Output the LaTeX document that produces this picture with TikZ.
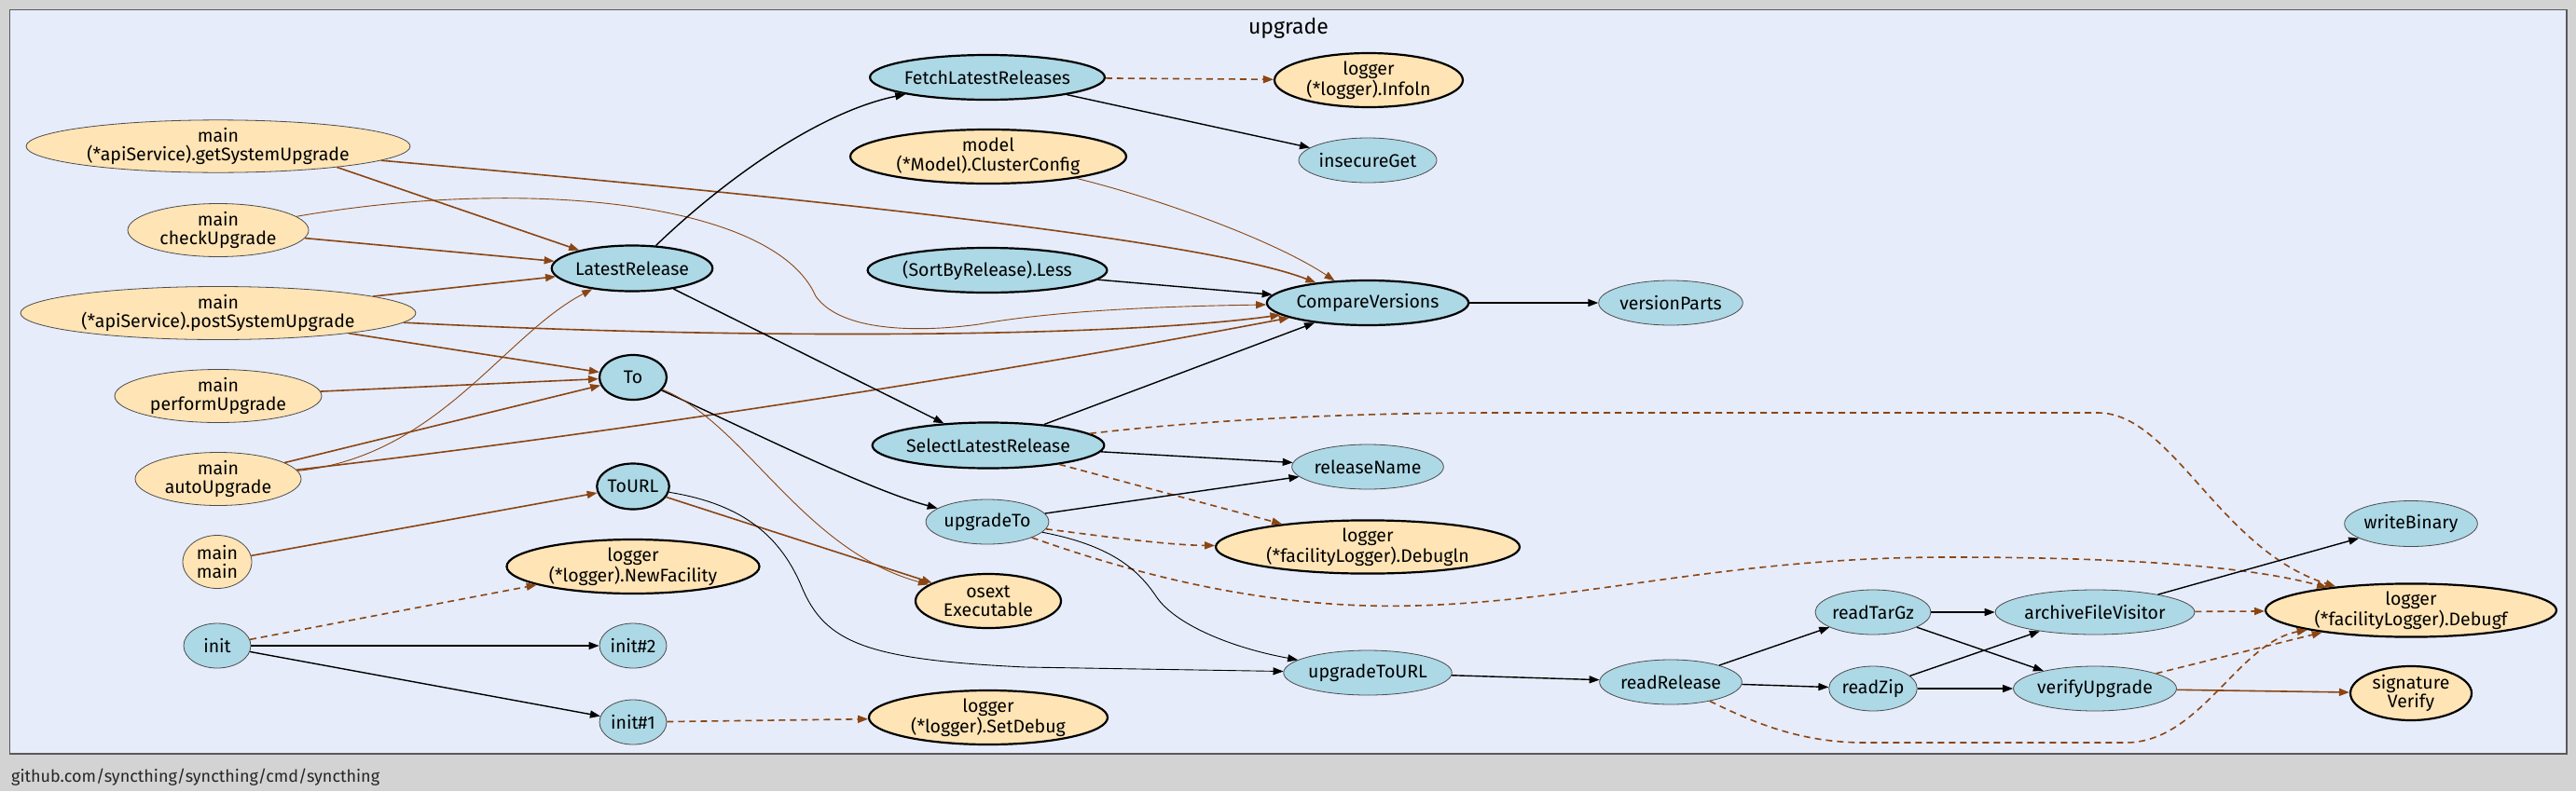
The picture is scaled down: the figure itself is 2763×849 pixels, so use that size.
\documentclass[tikz,border=0pt]{standalone}
\usepackage{fontspec}
\setmainfont{Fira Sans}
\usetikzlibrary{shapes.geometric,arrows.meta}
\definecolor{bgc}{HTML}{D3D3D3}
\definecolor{clc}{HTML}{E6ECFA}
\definecolor{fnc}{HTML}{ADD8E6}
\definecolor{exc}{HTML}{FFE4B5}
\definecolor{brn}{HTML}{8B4513}
\tikzset{
  base/.style={ellipse, inner sep=0pt, align=center, font=\fontsize{19.5}{20.5}\selectfont},
  sz/.style 2 args={minimum width=#1pt, minimum height=#2pt},
  thinfn/.style={base, fill=fnc, draw=black!70, line width=0.8pt},
  boldfn/.style={base, fill=fnc, draw=black, line width=2.2pt},
  thinex/.style={base, fill=exc, draw=black!70, line width=0.8pt},
  boldex/.style={base, fill=exc, draw=black, line width=2.2pt},
  eblk/.style={draw=black, line width=1.4pt, -{Triangle[length=11pt,width=8pt]}},
  ebr/.style={draw=brn, line width=1.6pt, -{Triangle[length=11pt,width=8pt]}},
  thinl/.style={line width=0.9pt},
  dsh/.style={dash pattern=on 7pt off 5pt},
}
\begin{document}
\begin{tikzpicture}[x=1pt,y=-1pt]
\fill[bgc] (0,0) rectangle (2763,849);
\useasboundingbox (0,0) rectangle (2763,849);
\draw[fill=clc, draw=black!65, line width=1.3pt] (10.5,10.5) rectangle (2753,809);
\node[font=\fontsize{23}{25}\selectfont] (title) at (1382,30) {upgrade};
\node[anchor=west, inner sep=0pt, text=black!85, font=\fontsize{18}{20}\selectfont] (foot) at (12,834) {github.com/syncthing/syncthing/cmd/syncthing};

% left column
\node[thinex, sz={412}{56}] (gsu) at (234,157) {main\\(*apiService).getSystemUpgrade};
\node[thinex, sz={194}{57}] (cku) at (234,247) {main\\checkUpgrade};
\node[thinex, sz={424}{57}] (psu) at (234,336) {main\\(*apiService).postSystemUpgrade};
\node[thinex, sz={222}{57}] (pfu) at (234,425) {main\\performUpgrade};
\node[thinex, sz={178}{57}] (aut) at (234,514) {main\\autoUpgrade};
\node[thinex, sz={74}{57}] (mmn) at (233,603) {main\\main};
\node[thinfn, sz={72}{48}] (ini) at (233,693) {init};

% second column
\node[boldfn, sz={148}{49}] (lr) at (678,288) {LatestRelease};
\node[boldfn, sz={72}{48}] (to) at (679,405) {To};
\node[boldfn, sz={74}{49}] (turl) at (679,522) {ToURL};
\node[boldex, sz={271}{58}] (nf) at (679,608) {logger\\(*logger).NewFacility};
\node[thinfn, sz={72}{48}] (i2) at (679,693) {init\#2};
\node[thinfn, sz={72}{48}] (i1) at (679,775) {init\#1};

% third column
\node[boldfn, sz={212}{48}] (flr) at (1059,83) {FetchLatestReleases};
\node[boldex, sz={296}{58}] (cc) at (1060,168) {model\\(*Model).ClusterConfig};
\node[boldfn, sz={210}{48}] (sbl) at (1059,290) {(SortByRelease).Less};
\node[boldfn, sz={210}{49}] (slr) at (1060,478) {SelectLatestRelease};
\node[thinfn, sz={114}{48}] (ut) at (1059,560) {upgradeTo};
\node[boldex, sz={156}{58}] (osx) at (1060,645) {osext\\Executable};
\node[boldex, sz={256}{58}] (sd) at (1060,770) {logger\\(*logger).SetDebug};

% fourth column
\node[boldex, sz={202}{58}] (inf) at (1468,86) {logger\\(*logger).Infoln};
\node[thinfn, sz={126}{48}] (ig) at (1467,172) {insecureGet};
\node[boldfn, sz={176}{48}] (cv) at (1467,325) {CompareVersions};
\node[thinfn, sz={140}{48}] (rn) at (1467,501) {releaseName};
\node[boldex, sz={326}{57}] (dbl) at (1467,587) {logger\\(*facilityLogger).Debugln};
\node[thinfn, sz={152}{48}] (uturl) at (1467,722) {upgradeToURL};

% fifth column
\node[thinfn, sz={130}{48}] (vp) at (1792,325) {versionParts};
\node[thinfn, sz={130}{48}] (rr) at (1792,732) {readRelease};

% right part
\node[thinfn, sz={110}{48}] (rtg) at (2009,657) {readTarGz};
\node[thinfn, sz={82}{48}] (rz) at (2009,739) {readZip};
\node[thinfn, sz={172}{48}] (afv) at (2247,657) {archiveFileVisitor};
\node[thinfn, sz={146}{48}] (vu) at (2247,739) {verifyUpgrade};
\node[thinfn, sz={120}{49}] (wb) at (2586,562) {writeBinary};
\node[boldex, sz={312}{57}] (dbf) at (2586,655) {logger\\(*facilityLogger).Debugf};
\node[boldex, sz={130}{58}] (sv) at (2586,744) {signature\\Verify};

% edges from main.*
\draw[ebr] (gsu.-10) -- (lr);
\draw[ebr] (gsu) .. controls (900,215) and (1300,260) .. (cv);
\draw[ebr] (cku) -- (lr);
\draw[ebr, thinl] (cku) .. controls (560,190) and (830,215) .. (875,318) .. controls (905,360) and (1000,355) .. (1050,348) .. controls (1150,330) and (1300,328) .. (cv);
\draw[ebr] (psu) -- (lr);
\draw[ebr] (psu) .. controls (800,365) and (1200,362) .. (cv);
\draw[ebr] (psu) -- (to);
\draw[ebr] (pfu) -- (to);
\draw[ebr] (aut) -- (to);
\draw[ebr, thinl] (aut) .. controls (470,490) and (540,360) .. (lr);
\draw[ebr] (aut) .. controls (700,460) and (1100,395) .. (cv);
\draw[ebr] (mmn) -- (turl);

% init
\draw[ebr, dsh] (ini) -- (nf);
\draw[eblk] (ini) -- (i2);
\draw[eblk] (ini) -- (i1);
\draw[ebr, dsh] (i1) -- (sd);

% LatestRelease etc.
\draw[eblk] (lr) .. controls (780,190) and (880,120) .. (flr);
\draw[eblk] (lr) -- (slr);
\draw[ebr, dsh] (flr) -- (inf);
\draw[eblk] (flr) -- (ig);
\draw[ebr, thinl] (cc) .. controls (1250,215) and (1370,260) .. (cv);
\draw[eblk] (sbl) -- (cv);
\draw[eblk] (slr) -- (cv);
\draw[eblk] (cv) -- (vp);
\draw[eblk] (slr) -- (rn);
\draw[ebr, dsh] (slr) -- (dbl);
\draw[ebr, dsh] (slr) .. controls (1300,450) and (1450,443) .. (1611,443) -- (2250,443) .. controls (2330,443) and (2380,590) .. (dbf);

% To / ToURL
\draw[eblk] (to) .. controls (800,460) and (930,525) .. (ut);
\draw[ebr, thinl] (to) .. controls (800,455) and (860,590) .. (osx);
\draw[ebr] (turl) -- (osx);
\draw[eblk, thinl] (turl) .. controls (790,540) and (835,570) .. (860,630) .. controls (885,690) and (930,708) .. (1100,716) -- (uturl);

% upgradeTo
\draw[eblk] (ut) -- (rn);
\draw[ebr, dsh] (ut) .. controls (1180,575) and (1250,585) .. (dbl);
\draw[ebr, dsh] (ut) .. controls (1200,610) and (1350,655) .. (1518,650) .. controls (1700,645) and (1850,598) .. (2090,598) .. controls (2300,598) and (2420,610) .. (dbf);
\draw[eblk, thinl] (ut) .. controls (1190,585) and (1220,610) .. (1240,640) .. controls (1260,670) and (1320,695) .. (uturl);

% right part
\draw[eblk] (uturl) -- (rr);
\draw[eblk] (rr) -- (rtg);
\draw[eblk] (rr) -- (rz);
\draw[ebr, dsh] (rr) .. controls (1880,775) and (1930,797) .. (2000,797) -- (2280,797) .. controls (2360,797) and (2400,690) .. (dbf);
\draw[eblk] (rtg) -- (afv);
\draw[eblk] (rtg) -- (vu);
\draw[eblk] (rz) -- (afv);
\draw[eblk] (rz) -- (vu);
\draw[eblk] (afv) -- (wb);
\draw[ebr, dsh] (afv) -- (dbf);
\draw[ebr, dsh] (vu) -- (dbf);
\draw[ebr] (vu) -- (sv);
\end{tikzpicture}
\end{document}
